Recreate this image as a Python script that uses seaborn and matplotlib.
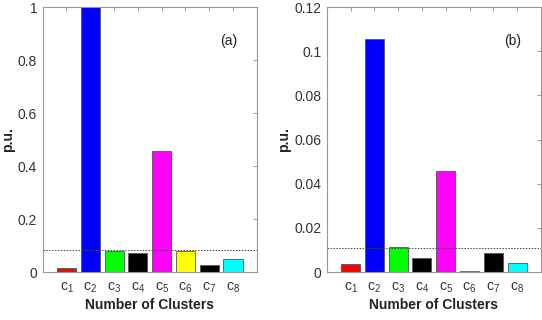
import pandas as pd
import matplotlib.pyplot as plt
import seaborn as sns

clusters = ['c1', 'c2', 'c3', 'c4', 'c5', 'c6', 'c7', 'c8']
tick_labels = ['c$_{1}$', 'c$_{2}$', 'c$_{3}$', 'c$_{4}$', 'c$_{5}$', 'c$_{6}$', 'c$_{7}$', 'c$_{8}$']
bar_colors = ['#ff0000', '#0000ff', '#00ff00', '#000000', '#ff00ff', '#ffff00', '#000000', '#00ffff']

values_a = [0.015, 1.0, 0.081, 0.073, 0.455, 0.079, 0.027, 0.048]
values_b = [0.0038, 0.1056, 0.0111, 0.0064, 0.0457, 0.0004, 0.0086, 0.0042]
threshold_a = 0.082
threshold_b = 0.011
yticks_a = [0, 0.2, 0.4, 0.6, 0.8, 1]
yticks_b = [0, 0.02, 0.04, 0.06, 0.08, 0.1, 0.12]

sns.set_style('white')
plt.rcParams['font.family'] = ['Liberation Sans', 'DejaVu Sans']
plt.rcParams['mathtext.fontset'] = 'custom'
plt.rcParams['mathtext.rm'] = 'Liberation Sans'
plt.rcParams['mathtext.it'] = 'Liberation Sans'

fig = plt.figure(figsize=(5.42, 3.2), dpi=100)
ax_a = fig.add_axes([0.0788, 0.15, 0.395, 0.828])
ax_b = fig.add_axes([0.603, 0.15, 0.395, 0.828])

panels = [
    (ax_a, values_a, threshold_a, yticks_a, (0, 1), '(a)'),
    (ax_b, values_b, threshold_b, yticks_b, (0, 0.12), '(b)'),
]

for ax, vals, thr, yt, ylim, tag in panels:
    df = pd.DataFrame({'cluster': clusters, 'value': vals})
    sns.barplot(data=df, x='cluster', y='value', hue='cluster', palette=bar_colors,
                order=clusters, hue_order=clusters, legend=False, width=0.8,
                edgecolor='#555555', linewidth=0.6, saturation=1, ax=ax)
    ax.axhline(thr, color='#444444', linestyle=(0, (1.5, 1.5)), linewidth=0.7)
    ax.set_xlim(-1, 8)
    ax.set_ylim(*ylim)
    ax.set_yticks(yt)
    ax.set_yticklabels(['%g' % t for t in yt])
    ax.set_xticks(range(len(clusters)))
    ax.set_xticklabels(tick_labels)
    ax.set_xlabel('Number of Clusters', fontsize=10, fontweight='bold', color='#222222', labelpad=2)
    ax.set_ylabel('p.u.', fontsize=10, fontweight='bold', color='#222222', labelpad=2)
    ax.tick_params(axis='both', direction='in', length=3, width=0.6, color='#888888',
                   top=True, right=True, labelsize=10, labelcolor='#333333', pad=4)
    ax.tick_params(axis='x', pad=6)
    for s in ax.spines.values():
        s.set_visible(True)
        s.set_color('#999999')
        s.set_linewidth(0.8)
    ax.text(0.87, 0.87, tag, transform=ax.transAxes, ha='center', va='center',
            fontsize=10, color='#222222')

fig.savefig('out.png', dpi=100)
